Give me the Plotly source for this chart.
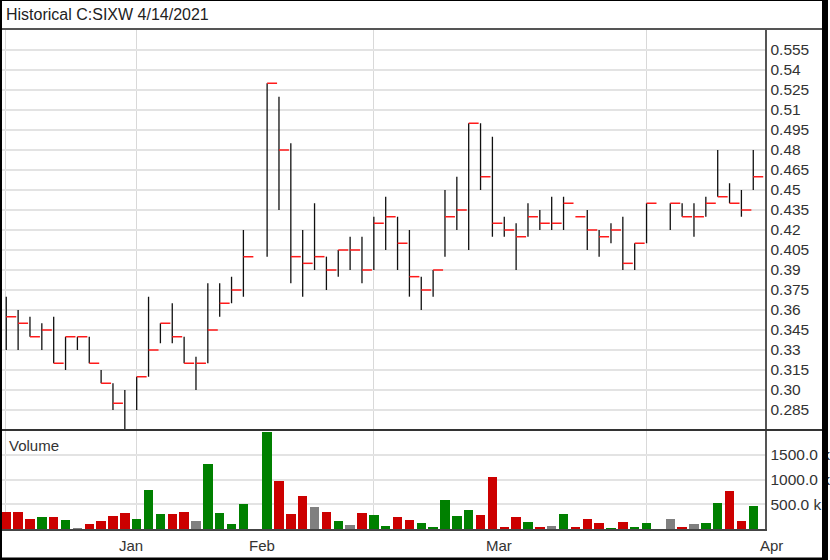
import plotly.graph_objects as go

# ---------------- data ----------------
bar_index = list(range(64))
highs = [0.37, 0.36, 0.355, 0.35, 0.355, 0.34, 0.34, 0.34, 0.315, 0.305,
         0.30, 0.31, 0.37, 0.35, 0.365, 0.34, 0.325, 0.38, 0.38, 0.385,
         0.42, None, 0.53, 0.52, 0.485, 0.42, 0.44, 0.40, 0.405, 0.415,
         0.415, 0.43, 0.445, 0.43, 0.42, 0.385, 0.39, 0.45, 0.46, 0.50,
         0.50, 0.49, 0.43, 0.425, 0.44, 0.435, 0.445, 0.445, 0.43, 0.435,
         0.42, 0.425, 0.43, 0.41, 0.44, None, 0.44, 0.44, 0.44, 0.445,
         0.48, 0.455, 0.45, 0.48]
lows = [0.33, 0.33, 0.34, 0.33, 0.32, 0.315, 0.33, 0.32, 0.305, 0.285,
        0.27, 0.285, 0.31, 0.335, 0.335, 0.32, 0.30, 0.32, 0.355, 0.365,
        0.37, None, 0.40, 0.435, 0.38, 0.37, 0.39, 0.375, 0.385, 0.39,
        0.38, 0.39, 0.405, 0.39, 0.37, 0.36, 0.37, 0.40, 0.42, 0.405,
        0.45, 0.415, 0.415, 0.39, 0.415, 0.42, 0.42, 0.42, 0.43, 0.405,
        0.40, 0.41, 0.39, 0.39, 0.41, None, 0.42, 0.43, 0.415, 0.43,
        0.445, 0.44, 0.43, 0.45]
closes = [0.355, 0.35, 0.34, 0.345, 0.32, 0.34, 0.34, 0.32, 0.305, 0.29,
          0.27, 0.31, 0.33, 0.35, 0.34, 0.32, 0.32, 0.345, 0.365, 0.375,
          0.40, None, 0.53, 0.48, 0.40, 0.395, 0.40, 0.39, 0.405, 0.405,
          0.39, 0.425, 0.43, 0.41, 0.385, 0.375, 0.39, 0.43, 0.435, 0.50,
          0.46, 0.425, 0.42, 0.415, 0.43, 0.425, 0.425, 0.44, 0.43, 0.42,
          0.415, 0.42, 0.395, 0.41, 0.44, None, 0.44, 0.43, 0.43, 0.44,
          0.445, 0.44, 0.435, 0.46]
volumes = [350000, 350000, 205000, 240000, 253000, 192000, 20000, 110000, 164000, 267000,
           322000, 205000, 795000, 301000, 315000, 356000, 158000, 1315000, 322000, 103000,
           514000, None, 1952000, 966000, 315000, 664000, 445000, 356000, 158000, 89000,
           322000, 288000, 62000, 247000, 178000, 123000, 55000, 589000, 274000, 390000,
           295000, 1048000, 48000, 253000, 144000, 48000, 68000, 315000, 48000, 205000,
           137000, 7000, 151000, 55000, 130000, None, 212000, 41000, 103000, 130000,
           527000, 767000, 164000, 479000]
vol_dir = ["R", "R", "R", "G", "R", "G", "N", "R", "R", "R",
           "R", "G", "G", "G", "R", "R", "N", "G", "G", "G",
           "G", "N", "G", "R", "R", "R", "N", "R", "G", "N",
           "R", "G", "G", "R", "R", "G", "G", "G", "G", "G",
           "R", "R", "R", "R", "G", "R", "N", "G", "R", "R",
           "R", "G", "R", "G", "G", "N", "N", "R", "N", "G",
           "G", "R", "R", "G"]

price_ticks = [0.285, 0.30, 0.315, 0.33, 0.345, 0.36, 0.375, 0.39, 0.405, 0.42,
               0.435, 0.45, 0.465, 0.48, 0.495, 0.51, 0.525, 0.54, 0.555]
price_tick_text = ["0.285", "0.30", "0.315", "0.33", "0.345", "0.36", "0.375", "0.39",
                   "0.405", "0.42", "0.435", "0.45", "0.465", "0.48", "0.495", "0.51",
                   "0.525", "0.54", "0.555"]
vol_ticks = [500000, 1000000, 1500000]
vol_tick_text = ["500.0 k", "1000.0 k", "1500.0 k"]
month_labels = ["Jan", "Feb", "Mar", "Apr"]
month_pos = [10.48, 21.56, 41.53, 64.5]
grid_pos = [-0.08, 11, 31, 54]

title_text = "Historical C:SIXW 4/14/2021"

# ---------------- styling ----------------
W, H = 830, 560
TICK_LEN = 0.84
color_map = {"R": "#cc0000", "G": "#008000", "N": "#808080"}
FONT = "Arial, Liberation Sans, sans-serif"

def py(px):
    return 1 - px / H

# high-low segments
hl_x, hl_y = [], []
cl_x, cl_y = [], []
for i, h, l, c in zip(bar_index, highs, lows, closes):
    if h is None:
        continue
    hl_x += [i, i, None]
    hl_y += [l, h, None]
    cl_x += [i, i + TICK_LEN, None]
    cl_y += [c, c, None]

fig = go.Figure()
fig.add_trace(go.Scatter(x=hl_x, y=hl_y, mode="lines", line=dict(color="#111111", width=1.3),
                         xaxis="x", yaxis="y", hoverinfo="skip", showlegend=False))
fig.add_trace(go.Scatter(x=cl_x, y=cl_y, mode="lines", line=dict(color="#ff1a1a", width=1.5),
                         xaxis="x", yaxis="y", hoverinfo="skip", showlegend=False))
fig.add_trace(go.Bar(x=bar_index, y=volumes, marker=dict(color=[color_map[d] for d in vol_dir], line=dict(width=0)),
                     width=0.8, xaxis="x2", yaxis="y2", showlegend=False))

x_left_px, x_right_px = 2, 770
xdom = [x_left_px / W, x_right_px / W]
xrange_ = [-0.36, 64.02]
units_per_px = (xrange_[1] - xrange_[0]) / (x_right_px - x_left_px)

def x_to_paper(v):
    # same linear scale as the x axes, extended past the plot edge for labels
    return (x_left_px + (v - xrange_[0]) / units_per_px) / W

fig.update_layout(
    width=W, height=H,
    margin=dict(l=0, r=0, t=0, b=0),
    paper_bgcolor="white", plot_bgcolor="white",
    font=dict(family=FONT, color="#333333"),
    xaxis=dict(domain=xdom, range=xrange_, anchor="y", tickmode="array", tickvals=grid_pos,
               showticklabels=False, ticks="", showgrid=True, gridcolor="#d9d9d9", gridwidth=1,
               zeroline=False, showline=False, fixedrange=True),
    yaxis=dict(domain=[py(430), py(30)], range=[0.27, 0.57], anchor="x", side="right",
               tickmode="array", tickvals=price_ticks, ticktext=price_tick_text,
               showgrid=True, gridcolor="#e3e3e3", gridwidth=2, zeroline=False,
               showline=True, linecolor="#555555", linewidth=2, ticks="",
               tickfont=dict(size=15.5, color="#333333", family=FONT), ticklabelstandoff=0),
    xaxis2=dict(domain=xdom, range=xrange_, anchor="y2", tickmode="array", tickvals=grid_pos,
                showticklabels=False, ticks="", showgrid=True, gridcolor="#d9d9d9", gridwidth=1,
                zeroline=False, showline=True, linecolor="#444444", linewidth=2),
    yaxis2=dict(domain=[py(529.3), py(430)], range=[0, 2000000], anchor="x2", side="right",
                tickmode="array", tickvals=vol_ticks, ticktext=vol_tick_text,
                showgrid=True, gridcolor="#e3e3e3", gridwidth=2, zeroline=False,
                showline=True, linecolor="#555555", linewidth=2, ticks="",
                tickfont=dict(size=15.5, color="#333333", family=FONT), ticklabelstandoff=0),
    bargap=0,
)

shapes = [
    dict(type="line", xref="paper", yref="paper", x0=0, x1=1, y0=py(29), y1=py(29),
         line=dict(color="#555555", width=2)),
    dict(type="line", xref="paper", yref="paper", x0=0, x1=1, y0=py(430), y1=py(430),
         line=dict(color="#333333", width=2)),
    # outer frame
    dict(type="line", xref="paper", yref="paper", x0=0, x1=0, y0=0, y1=1, line=dict(color="black", width=4)),
    dict(type="line", xref="paper", yref="paper", x0=1, x1=1, y0=0, y1=1, line=dict(color="black", width=6)),
    dict(type="line", xref="paper", yref="paper", x0=0, x1=1, y0=1, y1=1, line=dict(color="black", width=2)),
    dict(type="line", xref="paper", yref="paper", x0=0, x1=1, y0=0, y1=0, line=dict(color="black", width=5)),
]
fig.update_layout(shapes=shapes)

annotations = [
    dict(text=title_text, xref="paper", yref="paper", x=4 / W, y=py(14), xanchor="left",
         yanchor="middle", showarrow=False, font=dict(size=16, color="#222222", family=FONT)),
    dict(text="Volume", xref="paper", yref="paper", x=7 / W, y=py(445), xanchor="left",
         yanchor="middle", showarrow=False, font=dict(size=15, color="#333333", family=FONT)),
]
for lab, pos in zip(month_labels, month_pos):
    annotations.append(dict(text=lab, xref="paper", yref="paper", x=x_to_paper(pos), y=py(545),
                            xanchor="center", yanchor="middle", showarrow=False,
                            font=dict(size=15, color="#333333", family=FONT)))
fig.update_layout(annotations=annotations)

fig.write_html("out.html", config={"displayModeBar": False},
               post_script="document.body.style.margin='0';document.body.style.overflow='hidden';")
